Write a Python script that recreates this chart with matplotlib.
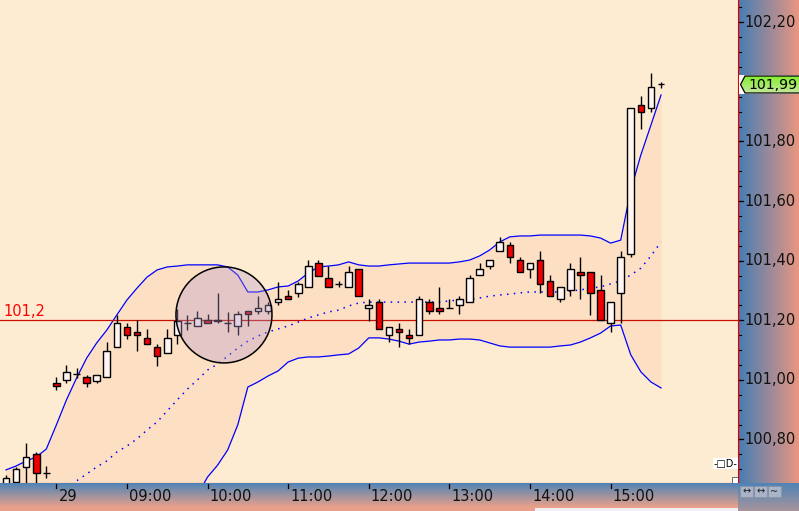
import numpy as np
import matplotlib.pyplot as plt
from matplotlib.patches import Rectangle, Ellipse, Polygon

# ---- data ----
opens = [100.640, 100.658, 100.709, 100.751, 100.687, 100.989, 100.999, 101.020, 101.009, 100.997,
         101.009, 101.109, 101.179, 101.160, 101.140, 101.109, 101.089, 101.150, 101.190, 101.180,
         101.201, 101.202, 101.190, 101.180, 101.231, 101.231, 101.231, 101.261, 101.281, 101.291,
         101.311, 101.392, 101.341, 101.321, 101.311, 101.371, 101.240, 101.260, 101.150, 101.170,
         101.150, 101.150, 101.260, 101.240, 101.240, 101.250, 101.260, 101.351, 101.381, 101.432,
         101.452, 101.401, 101.371, 101.401, 101.331, 101.270, 101.301, 101.361, 101.361, 101.301,
         101.190, 101.291, 101.421, 101.921, 101.911, 101.992]
highs = [100.680, 100.708, 100.789, 100.759, 100.711, 101.011, 101.050, 101.039, 101.016, 101.016,
         101.128, 101.218, 101.190, 101.201, 101.171, 101.120, 101.171, 101.238, 101.218, 101.231,
         101.221, 101.293, 101.229, 101.231, 101.231, 101.282, 101.260, 101.330, 101.302, 101.330,
         101.402, 101.402, 101.382, 101.332, 101.382, 101.371, 101.270, 101.270, 101.179, 101.190,
         101.170, 101.281, 101.270, 101.311, 101.270, 101.281, 101.352, 101.392, 101.401, 101.481,
         101.462, 101.411, 101.391, 101.432, 101.351, 101.311, 101.392, 101.411, 101.361, 101.351,
         101.260, 101.432, 101.911, 101.953, 102.029, 102.000]
lows = [100.600, 100.645, 100.645, 100.645, 100.670, 100.966, 100.989, 101.005, 100.977, 100.989,
        101.009, 101.109, 101.138, 101.098, 101.119, 101.048, 101.089, 101.119, 101.167, 101.180,
        101.191, 101.190, 101.160, 101.150, 101.180, 101.220, 101.220, 101.251, 101.270, 101.279,
        101.311, 101.350, 101.311, 101.311, 101.311, 101.281, 101.199, 101.170, 101.128, 101.109,
        101.119, 101.150, 101.220, 101.220, 101.240, 101.220, 101.260, 101.351, 101.371, 101.432,
        101.392, 101.361, 101.341, 101.291, 101.281, 101.260, 101.281, 101.270, 101.219, 101.200,
        101.160, 101.190, 101.411, 101.841, 101.900, 101.980]
closes = [100.670, 100.700, 100.740, 100.689, 100.687, 100.980, 101.028, 101.020, 100.989, 101.016,
          101.098, 101.190, 101.150, 101.150, 101.119, 101.080, 101.140, 101.199, 101.190, 101.209,
          101.191, 101.198, 101.190, 101.220, 101.220, 101.241, 101.251, 101.271, 101.270, 101.322,
          101.382, 101.350, 101.311, 101.321, 101.362, 101.281, 101.250, 101.170, 101.179, 101.160,
          101.140, 101.270, 101.230, 101.230, 101.240, 101.270, 101.341, 101.371, 101.401, 101.462,
          101.411, 101.361, 101.391, 101.321, 101.281, 101.311, 101.371, 101.351, 101.291, 101.200,
          101.260, 101.411, 101.911, 101.900, 101.982, 101.992]

upper = [100.698, 100.711, 100.728, 100.741, 100.768, 100.849, 100.933, 101.006, 101.073, 101.124,
         101.167, 101.218, 101.268, 101.308, 101.345, 101.369, 101.379, 101.382, 101.386, 101.386,
         101.386, 101.386, 101.379, 101.352, 101.295, 101.295, 101.302, 101.312, 101.315, 101.332,
         101.359, 101.379, 101.382, 101.386, 101.396, 101.386, 101.382, 101.382, 101.386, 101.389,
         101.392, 101.392, 101.392, 101.392, 101.392, 101.396, 101.402, 101.416, 101.436, 101.463,
         101.480, 101.483, 101.483, 101.486, 101.486, 101.486, 101.486, 101.486, 101.483, 101.476,
         101.459, 101.469, 101.637, 101.755, 101.855, 101.956]
middle = [100.496, 100.520, 100.543, 100.567, 100.590, 100.614, 100.634, 100.661, 100.684, 100.708,
          100.728, 100.758, 100.778, 100.802, 100.832, 100.859, 100.896, 100.933, 100.969, 101.000,
          101.033, 101.053, 101.080, 101.107, 101.130, 101.147, 101.161, 101.171, 101.181, 101.194,
          101.208, 101.218, 101.228, 101.234, 101.248, 101.258, 101.261, 101.261, 101.261, 101.261,
          101.261, 101.261, 101.261, 101.261, 101.265, 101.268, 101.268, 101.275, 101.281, 101.285,
          101.288, 101.292, 101.295, 101.295, 101.295, 101.295, 101.298, 101.302, 101.308, 101.312,
          101.322, 101.332, 101.352, 101.375, 101.416, 101.463]
lower = [100.295, 100.328, 100.359, 100.392, 100.412, 100.379, 100.335, 100.315, 100.295, 100.292,
         100.288, 100.298, 100.288, 100.295, 100.318, 100.349, 100.412, 100.483, 100.553, 100.614,
         100.674, 100.714, 100.765, 100.849, 100.976, 100.993, 101.013, 101.030, 101.060, 101.073,
         101.077, 101.077, 101.080, 101.084, 101.087, 101.107, 101.141, 101.141, 101.137, 101.130,
         101.120, 101.127, 101.130, 101.134, 101.134, 101.137, 101.137, 101.134, 101.124, 101.114,
         101.110, 101.110, 101.110, 101.110, 101.110, 101.114, 101.117, 101.127, 101.141, 101.157,
         101.181, 101.184, 101.084, 101.027, 100.993, 100.973]

time_ticks = [5, 12, 20, 28, 36, 44, 52, 60]
time_labels = ['29', '09:00', '10:00', '11:00', '12:00', '13:00', '14:00', '15:00']
price_ticks = [100.8, 101.0, 101.2, 101.4, 101.6, 101.8, 102.2]
price_labels = ['100,80', '101,00', '101,20', '101,40', '101,60', '101,80', '102,20']
last_price = 101.99
last_label = '101,99'
ref_level = 101.2
ref_label = '101,2'

# ---- layout helpers (pixel boxes, y measured from top) ----
W, H = 799, 511
fig = plt.figure(figsize=(W / 100, H / 100), dpi=100)
fig.patch.set_facecolor('#feecd2')

def px_axes(x0, y0, x1, y1):
    a = fig.add_axes([x0 / W, 1 - y1 / H, (x1 - x0) / W, (y1 - y0) / H])
    a.set_xticks([]); a.set_yticks([])
    for s in a.spines.values():
        s.set_visible(False)
    return a

XL = (-0.595, 72.64)
YL = (100.654, 102.2748)
FS = 10.5

# ---- main price panel ----
ax = px_axes(0, 0, 738, 483)
ax.set_xlim(*XL); ax.set_ylim(*YL)
ax.set_facecolor('#feecd2')

x = np.arange(len(closes))
ax.fill_between(x, lower, upper, color='#fde0c4', lw=0, zorder=1)
ax.plot(x, upper, color='#0000ff', lw=0.9, zorder=2)
ax.plot(x, lower, color='#0000ff', lw=0.9, zorder=2)
ax.plot(x, middle, color='#0000ff', lw=1.1, ls=(0, (1, 3.5)), zorder=2)

ax.axhline(ref_level, color='#c81000', lw=0.9, zorder=2)
ax.text(0.004, ref_level + 0.006, ref_label, transform=ax.get_yaxis_transform(),
        color='#ff0000', fontsize=FS, va='bottom', ha='left')

bw = 0.66
for i, (o, h, l, c) in enumerate(zip(opens, highs, lows, closes)):
    ax.vlines(i, l, h, color='k', lw=1.0, zorder=3)
    if o == c:
        ax.hlines(c, i - bw / 2, i + bw / 2, color='k', lw=1.0, zorder=3)
        continue
    fc = '#fff6f2' if c > o else '#f00000'
    ax.add_patch(Rectangle((i - bw / 2, min(o, c)), bw, abs(c - o),
                           facecolor=fc, edgecolor='k', lw=1.0, zorder=4))

# highlight circle
ax.add_patch(Ellipse((21.63, 101.218), 96 / 10.077, 96 / 298,
                     facecolor=(180 / 255, 150 / 255, 200 / 255, 0.35),
                     edgecolor='k', lw=1.1, zorder=5))

# plot-area borders
ax.spines['right'].set_visible(True); ax.spines['right'].set_color('#e00000')
ax.spines['bottom'].set_visible(True); ax.spines['bottom'].set_color('#e00000')

# little widgets in the corner
ax.text(0.983, 0.04, '-□D-', transform=ax.transAxes, fontsize=7, ha='center', va='center',
        bbox=dict(facecolor='white', edgecolor='none', pad=0.5), zorder=6)
ax.add_patch(Rectangle((0.992, 0.0), 0.008, 0.012, transform=ax.transAxes,
                       facecolor='white', edgecolor='#555555', lw=0.6, zorder=6))

# ---- right price axis ----
blue = np.array([70, 125, 180]) / 255
salmon = np.array([232, 150, 128]) / 255
t = np.linspace(0, 1, 64)
hgrad = (blue[None, :] * (1 - t[:, None]) + salmon[None, :] * t[:, None])[None, :, :]

rax = px_axes(738, 0, 799, 483)
rax.set_xlim(0, 61); rax.set_ylim(*YL)
rax.imshow(hgrad, extent=[0, 61, YL[0], YL[1]], aspect='auto', zorder=0)
for p in np.arange(100.7, 102.26, 0.05):
    rax.plot([0.5, 3], [p, p], color='k', lw=0.8)
for p, lab in zip(price_ticks, price_labels):
    rax.plot([0.5, 4.5], [p, p], color='k', lw=0.9)
    rax.text(6, p, lab, fontsize=FS, va='center', ha='left', color='#111111')
rax.axvline(0.3, color='#e00000', lw=1.0)

# last price badge
lax = px_axes(739, 75, 799, 94)
lax.set_xlim(0, 60); lax.set_ylim(19, 0)
vg = np.linspace(0, 1, 32)
g_top = np.array([128, 240, 40]) / 255
g_bot = np.array([200, 230, 160]) / 255
vgrad = (g_top[None, :] * (1 - vg[:, None]) + g_bot[None, :] * vg[:, None])[:, None, :]
im = lax.imshow(vgrad, extent=[0, 62, 19, 0], aspect='auto', zorder=1)
badge = lax.add_patch(Polygon([(1.5, 9.5), (6, 1), (62, 1), (62, 18), (6, 18)], closed=True,
                              facecolor='none', edgecolor='k', lw=0.9, zorder=3))
im.set_clip_path(badge)
lax.set_xlim(0, 60); lax.set_ylim(19, 0)
lax.text(9, 9.8, last_label, fontsize=10.2, va='center', ha='left', color='k', zorder=4)

# ---- bottom time axis ----
t_top = np.array([80, 132, 182]) / 255
t_bot = np.array([236, 162, 136]) / 255
vv = np.linspace(0, 1, 32)
tgrad = (t_top[None, :] * (1 - vv[:, None]) + t_bot[None, :] * vv[:, None])[:, None, :]

bax = px_axes(0, 483, 738, 511)
bax.set_xlim(*XL); bax.set_ylim(28, 0)
bax.imshow(tgrad, extent=[XL[0], XL[1], 25, 0], aspect='auto', zorder=0)
bax.add_patch(Rectangle((XL[0], 25), XL[1] - XL[0], 3, facecolor='#e6a08c', lw=0, zorder=0))
bax.add_patch(Rectangle(((535 - 6) / 10.077, 25.2), XL[1], 3, facecolor='#f2f0f6', lw=0, zorder=1))
for tk, lab in zip(time_ticks, time_labels):
    bax.plot([tk, tk], [1, 4.5], color='k', lw=0.9)
    bax.text(tk + 0.2, 13.2, lab, fontsize=FS, va='center', ha='left', color='#111111')
bax.set_xlim(*XL); bax.set_ylim(28, 0)

# corner buttons
cax = px_axes(738, 483, 799, 511)
cax.set_xlim(0, 61); cax.set_ylim(28, 0)
cax.imshow(tgrad * 0.55 + t_top * 0.45, extent=[0, 61, 28, 0], aspect='auto', zorder=0)
for bx, sym in zip([2, 16, 30], ['↔', '↔', '~']):
    cax.add_patch(Rectangle((bx, 3), 13, 11, facecolor='#aab4c8', edgecolor='#8890a0', lw=0.5, zorder=1))
    cax.text(bx + 6.5, 8.5, sym, fontsize=7, ha='center', va='center', color='#222222', zorder=2)
cax.set_xlim(0, 61); cax.set_ylim(28, 0)

fig.savefig('out.png', dpi=100, facecolor=fig.get_facecolor())
